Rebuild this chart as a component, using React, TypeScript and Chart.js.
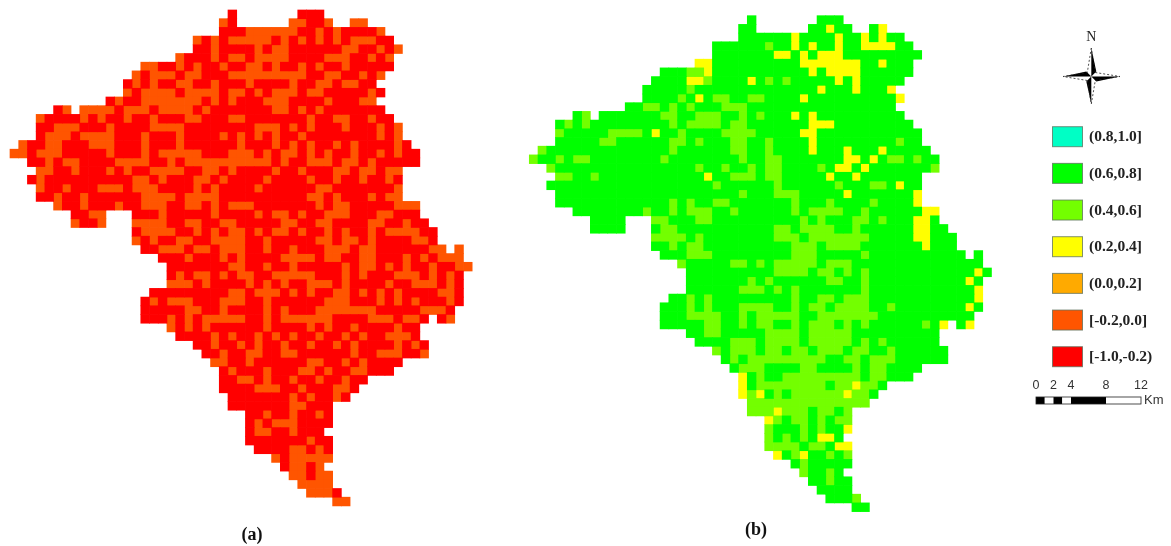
import React, { useEffect, useRef } from "react";
import { Chart, registerables } from "chart.js";

Chart.register(...registerables);

// Map (a): each token is "<column><class>", the class holds until the next token.
const mapARows: string[] = [
  "25r 26. 33r 36.",
  "24o 25r 26. 32o 34r 36o 37. 39o 41.",
  "24r 27o 33r 35o 36r 37o 38r 42o 43.",
  "21o 22r 23o 24r 25o 30r 31o 32r 33o 34r 35o 36r 37o 38r 39o 42r 44.",
  "21r 23o 24r 28o 29r 30o 32r 38o 40r 42o 43r 44o 45.",
  "19o 20r 23o 24r 25o 27r 28o 32r 36o 39r 41o 42r 43o 44.",
  "15o 17r 19o 20r 21o 22r 24o 25r 27o 29r 30o 31r 33o 34r 35o 36r 38o 39r 44.",
  "14o 15r 16o 19r 20o 22r 25o 34r 36o 38r 40o 41r 42o 43.",
  "13r 14o 15r 16o 17r 19o 21r 23o 24r 27o 28r 32o 33r 35o 37r 38o 40r 42.",
  "13o 14r 15o 19r 20o 24r 25o 27r 28o 29r 30o 33r 34o 36r 41o 42r 43.",
  "11r 12o 13r 15o 22r 23o 24r 25o 26r 29o 32r 36o 37r 40o 42.",
  "5r 6o 7. 8o 12r 13o 16r 17o 21r 22o 23r 30o 32r 33o 34r 35o 36r 43.",
  "3o 4r 8o 9r 10o 11r 13o 14r 16o 17r 20o 22r 25o 27r 34o 35r 37o 39r 41o 42r 44.",
  "3r 5o 8r 11o 12r 16o 20r 28o 31r 32o 33r 34o 35r 38o 39r 42o 43r 44o 45.",
  "3r 4o 7r 8o 12r 15o 16r 19o 20r 24o 25r 26o 27r 28o 29r 30o 31r 33o 34r 42o 43r 44o 45.",
  "1o 2r 4o 6r 9o 12r 15o 16r 19o 20r 26o 27r 30o 31r 32o 33r 34o 35r 37o 38r 39o 40r 44o 45r 46.",
  "0o 2r 3o 6r 11o 12r 15o 16r 17o 22r 25o 28r 29o 30r 31o 33r 34o 35r 36o 37r 39o 40r 42o 43r 44o 45r 47.",
  "2r 4o 5r 6o 8r 12o 16r 18o 19r 20o 30r 31o 32r 34o 37r 38o 40r 41o 42r 47.",
  "3o 5r 7o 8r 11o 12r 13o 14r 16o 20r 22o 24r 25o 26r 30o 31r 33o 34r 37o 39r 40o 42r 43o 45.",
  "2r 3o 4r 14o 16r 17o 18r 21o 23r 24o 25r 29o 30r 34o 35r 37o 38r 40o 41r 43o 44r 45.",
  "3o 4r 6o 7r 10o 13r 14o 17r 21o 22r 23o 24r 28o 29r 35o 37r 44o 45.",
  "3r 5o 6r 8o 9r 12r 15o 19r 20o 24r 34o 36r 37o 38r 41o 42r 43o 45.",
  "5o 6r 8o 9r 11r 12o 13r 15o 18r 20o 22r 23o 24r 25o 28r 35o 36r 37o 39r 44o 47.",
  "7r 9o 11. 14r 17o 18r 23o 24r 28o 29r 30o 32r 33o 34r 36o 39r 42o 44r 47.",
  "7o 8r 10o 11. 14o 18r 20o 22r 24o 26r 31o 33r 35o 37r 41o 43r 45o 46r 48.",
  "14r 15o 19r 21o 22r 23o 24r 25o 27r 28o 29r 30o 32r 33o 34r 36o 37r 38o 39r 41o 42r 43o 47r 49.",
  "14o 15r 16o 17r 19o 21r 23o 27r 29o 30r 35o 37r 38o 40r 41o 42r 46o 48r 49.",
  "15r 17o 20r 21o 23r 24o 27r 29o 30r 32o 33r 36o 39r 40o 42r 48o 50. 51o 52.",
  "17r 20o 21r 24o 25r 26o 27r 31o 35r 36o 38r 40o 42r 45o 46r 47o 48r 49o 52.",
  "18r 25o 27r 29o 30r 32o 33r 38o 39r 40o 42r 43o 44r 45o 46r 48o 49r 51o 53.",
  "18r 19o 20r 21o 23r 24o 25r 26o 28r 30o 35r 38o 39r 40o 41r 44o 47r 48o 49r 50o 51r 52.",
  "18o 21r 22o 23r 27o 28r 29o 30r 31o 32r 34o 37r 38o 39r 43o 44r 46o 49r 50o 51r 52.",
  "16r 25o 27r 28o 31r 32o 33r 34o 35r 37o 39r 40o 41r 42o 43r 44o 45r 49o 51r 52.",
  "15r 16o 17r 18o 21r 24o 27r 29o 30r 36o 39r 42o 43r 44o 45r 46o 47r 50o 51r 52.",
  "15r 20o 22r 24o 25r 29o 30r 31o 32r 35o 42r 47o 50r 51.",
  "15r 18o 19r 20o 21r 22o 27r 29o 30r 31o 37r 41o 44r 45o 47r 48. 49r 50o 51.",
  "18o 19r 20o 21r 22o 23r 29o 30r 34o 35r 36o 37r 39o 40r 44o 45r 47.",
  "19r 23o 24r 25o 26r 28o 29r 30o 31r 32o 33r 35o 36r 38o 39r 40o 41r 43o 46r 47.",
  "21r 23o 24r 26o 27r 28o 29r 31o 32r 34o 35r 37o 38r 39o 40r 44o 45r 46o 47r 48.",
  "22r 24o 25r 27o 29r 31o 33r 39o 40r 42o 45r 47o 48.",
  "23o 25r 27o 28r 34o 36r 38o 39r 40o 41r 45.",
  "24r 25o 26r 29o 30r 33o 35r 36o 37r 39o 41r 44.",
  "24r 26o 28r 29o 30r 32o 33r 35o 36r 38o 39r 41.",
  "24r 28o 31r 33o 34r 37o 39r 40.",
  "25r 32o 33r 34o 35r 37o 38r 39.",
  "25r 32o 34r 37.",
  "27r 29o 30r 32o 33r 35o 36r 37.",
  "27r 28o 29r 30o 33r 37.",
  "27r 28o 30r 32o 33r 36.",
  "27r 34o 35r 37.",
  "28r 32o 34r 35o 36r 37.",
  "30o 31r 32o 37.",
  "31r 32o 34r 35o 36.",
  "32o 34r 35o 37.",
  "33o 37.",
  "34o 37r 38.",
  "37o 39.",
];

// Map (b) has the same footprint as (a). Cells are dark green unless listed: plain = light green, y = yellow.
const mapBExceptions: string[] = [
  "",
  "y34 y40",
  "y30 y35 y38 y40",
  "27 y30 y32 y35 y38-41",
  "y28-29 y31 y33-35",
  "y19-20 y31-37 y40",
  "18-19 y20 y32 y34-37",
  "y18-19 20 y25 27 29 y35 y37",
  "18 y33 y37 y41",
  "17 y19 21-22 25-26 y31 y42",
  "13-14 16 18 22-24",
  "6 15-16 19-21 24 26 y30 y32",
  "4 6 16 18-21 23-24 y32-34",
  "3 9-12 y14 17 22-25 y31-32",
  "8-9 16-17 19 23-24 27 y32 42",
  "1 16 23-24 27 y32 y36 y40",
  "0 3 5-6 15 24 27-28 y36-37 y39 41-42 44",
  "2 19 22 25 27-28 33 y35-36 y38 46",
  "3-4 7 y20 23-25 27-28 y34 y37",
  "21 28 35 39-40 y42",
  "24 28-30 y36 y44",
  "16 18 21-22 30 34 39 y44",
  "13 16 18-20 23 30 32-35 38 y45-46",
  "14-15 19-20 31 33 37-38 40 y44-45",
  "15-16 28-29 31-34 37 y44-45",
  "14-17 19 28-30 32-35 36-38 y44-45",
  "16 18-19 30-32 34-37 y45",
  "18-20 30-32 38",
  "17 23-24 26 28-32 34-36",
  "28-31 33-34 36 38 y51",
  "25 27 34-35 38 y50",
  "24-26 28 30 38 y51",
  "18 20 30 33-34 36-38 y51",
  "18 20 24-27 30 32-33 35-38 41 y50",
  "18-21 24 26-30 33-39",
  "20-21 24 26-27 30 32-34 36 38 45 y47 y50",
  "20-21 27-30 32-36",
  "23-25 27-30 32-36 38 40",
  "21 23-25 27-28 30-31 33-35 37-38 41",
  "23 25-33 36-37 39-41",
  "24-26 31-32 37 39-40",
  "y24 26 29-37 39-40",
  "y24 26-33 35-36 y37 38-39",
  "y24 25 y26 28 30-35 y36 37-38",
  "25-38",
  "25-27 y28 29-31 33-34 36",
  "y27 28 30-31 33 35-36",
  "27 31 33 y36",
  "27 29 31 y33-34",
  "27-30 32-33 y35-36",
  "y28 30 y31 34 36",
  "31",
  "31 34",
  "34",
  "",
  "37",
  "",
];

const legendLabels = ["(0.8,1.0]", "(0.6,0.8]", "(0.4,0.6]", "(0.2,0.4]", "(0.0,0.2]", "[-0.2,0.0]", "[-1.0,-0.2)"];
const legendColors = ["#00FFC5", "#00FF00", "#73FF00", "#FFFF00", "#FFAA00", "#FF5500", "#FF0000"];
const scaleTicks = ["0", "2", "4", "8", "12"];
const scaleStops = [0, 1, 2, 3, 4, 8, 12];

type Cell = { x: number; y: number };

function parseA() {
  const out: Record<string, Cell[]> = { r: [], o: [] };
  mapARows.forEach((row, y) => {
    const tokens = row.split(" ").map((t) => ({ c: parseInt(t, 10), k: t.slice(-1) }));
    tokens.forEach((t, i) => {
      if (t.k === ".") return;
      for (let c = t.c; c < tokens[i + 1].c; c++) out[t.k].push({ x: c + 0.5, y: y + 0.5 });
    });
  });
  return out;
}

function parseB() {
  const out: Record<string, Cell[]> = { g: [], l: [], y: [] };
  mapARows.forEach((row, y) => {
    const special = new Map<number, string>();
    mapBExceptions[y].split(" ").filter(Boolean).forEach((t) => {
      const kind = t[0] === "y" ? "y" : "l";
      const [a, b] = t.replace("y", "").split("-").map(Number);
      for (let c = a; c <= (b ?? a); c++) special.set(c, kind);
    });
    const tokens = row.split(" ").map((t) => ({ c: parseInt(t, 10), k: t.slice(-1) }));
    tokens.forEach((t, i) => {
      if (t.k === ".") return;
      for (let c = t.c; c < tokens[i + 1].c; c++) out[special.get(c) ?? "g"].push({ x: c + 0.5, y: y + 0.5 });
    });
  });
  return out;
}

const W = 1171;
const H = 546;
const CELL_W = 8.72;
const CELL_H = 8.7;
const SERIF = '"Liberation Serif", serif';
const SANS = '"Liberation Sans", sans-serif';

const furniture = {
  id: "furniture",
  afterDraw(chart: Chart) {
    const ctx = chart.ctx;
    ctx.save();
    // panel captions
    ctx.fillStyle = "#111";
    ctx.textBaseline = "middle";
    ctx.textAlign = "center";
    ctx.font = `bold 18px ${SERIF}`;
    ctx.fillText("(a)", 252, 535);
    ctx.fillText("(b)", 756, 530);

    // legend
    legendLabels.forEach((label, i) => {
      const top = 126.7 + i * 36.67;
      ctx.fillStyle = legendColors[i];
      ctx.fillRect(1052.5, top, 30, 20);
      ctx.strokeStyle = "rgba(90,110,90,0.75)";
      ctx.lineWidth = 1;
      ctx.strokeRect(1052.5, top, 30, 20);
      ctx.fillStyle = "#222";
      ctx.textAlign = "left";
      ctx.font = `bold 15.5px ${SERIF}`;
      ctx.fillText(label, 1089, top + 10.5);
    });

    // north arrow
    const cx = 1091.3;
    const cy = 76.5;
    ctx.fillStyle = "#222";
    ctx.textAlign = "center";
    ctx.font = `14px ${SERIF}`;
    ctx.fillText("N", cx, 37.5);
    const arm = (tx: number, ty: number, sx: number, sy: number) => {
      ctx.beginPath();
      ctx.moveTo(cx, cy);
      ctx.lineTo(tx, ty);
      ctx.lineTo(sx, sy);
      ctx.closePath();
      ctx.fillStyle = "#000";
      ctx.fill();
    };
    arm(cx, 48, cx + 5, cy - 5);
    arm(cx, 104, cx - 5, cy + 5);
    arm(1063, cy, cx - 5, cy - 5);
    arm(1120, cy, cx + 5, cy + 5);
    ctx.setLineDash([2, 2]);
    ctx.strokeStyle = "#222";
    ctx.lineWidth = 0.8;
    ctx.beginPath();
    ctx.moveTo(cx, 48);
    ctx.lineTo(cx - 4, cy - 4);
    ctx.lineTo(1063, cy);
    ctx.moveTo(cx, 104);
    ctx.lineTo(cx + 4, cy + 4);
    ctx.lineTo(1120, cy);
    ctx.moveTo(cx + 4, cy - 4);
    ctx.lineTo(1120, cy);
    ctx.moveTo(cx - 4, cy + 4);
    ctx.lineTo(1063, cy);
    ctx.moveTo(cx + 4, cy - 4);
    ctx.lineTo(cx, 48);
    ctx.moveTo(cx - 4, cy + 4);
    ctx.lineTo(cx, 104);
    ctx.stroke();
    ctx.setLineDash([]);

    // scale bar
    const sx = (km: number) => 1036 + (km * 105) / 12;
    for (let i = 0; i < scaleStops.length - 1; i++) {
      ctx.fillStyle = i % 2 === 0 ? "#000" : "#fff";
      ctx.fillRect(sx(scaleStops[i]), 397, sx(scaleStops[i + 1]) - sx(scaleStops[i]), 7);
    }
    ctx.strokeStyle = "#222";
    ctx.lineWidth = 0.8;
    ctx.strokeRect(sx(0), 397, sx(12) - sx(0), 7);
    ctx.fillStyle = "#333";
    ctx.font = `12.5px ${SANS}`;
    ctx.textAlign = "center";
    scaleTicks.forEach((t) => ctx.fillText(t, sx(Number(t)), 386));
    ctx.textAlign = "left";
    ctx.font = `13px ${SANS}`;
    ctx.fillText("Km", 1144, 400.5);
    ctx.restore();
  },
};

export default function App() {
  const ref = useRef<HTMLCanvasElement | null>(null);
  useEffect(() => {
    if (!ref.current) return;
    const a = parseA();
    const b = parseB();
    const ds = (label: string, data: Cell[], color: string, xAxisID: string, yAxisID: string) => ({
      label,
      data,
      xAxisID,
      yAxisID,
      pointStyle: "rect" as const,
      pointRadius: 6.65,
      pointHoverRadius: 6.65,
      pointBorderWidth: 0,
      backgroundColor: color,
      borderColor: color,
      showLine: false,
    });
    const axis = (origin: number, cell: number, extent: number, reverse = false) => ({
      type: "linear" as const,
      display: false,
      reverse,
      min: -origin / cell,
      max: (extent - origin) / cell,
    });
    const chart = new Chart(ref.current, {
      type: "scatter",
      data: {
        datasets: [
          ds("[-1.0,-0.2)", a.r, "#FF0000", "xa", "ya"),
          ds("[-0.2,0.0]", a.o, "#FF5500", "xa", "ya"),
          ds("(0.6,0.8]", b.g, "#00FF00", "xb", "yb"),
          ds("(0.4,0.6]", b.l, "#73FF00", "xb", "yb"),
          ds("(0.2,0.4]", b.y, "#FFFF00", "xb", "yb"),
        ],
      },
      options: {
        animation: false,
        responsive: false,
        devicePixelRatio: 1,
        layout: { padding: 0, autoPadding: false },
        plugins: { legend: { display: false }, tooltip: { enabled: false } },
        scales: {
          xa: axis(10, CELL_W, W),
          ya: axis(10, CELL_H, H, true),
          xb: axis(529.3, CELL_W, W),
          yb: axis(15.7, CELL_H, H, true),
        },
      },
      plugins: [furniture],
    });
    return () => chart.destroy();
  }, []);
  return (
    <div style={{ position: "absolute", left: 0, top: 0, width: W, height: H, background: "#fff" }}>
      <canvas ref={ref} width={W} height={H} style={{ display: "block", width: W, height: H }} />
    </div>
  );
}
